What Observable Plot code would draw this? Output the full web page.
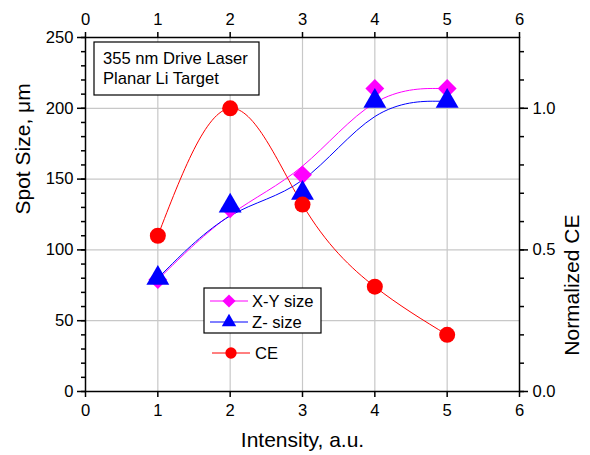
<!DOCTYPE html>
<html>
<head>
<meta charset="utf-8">
<script src="https://cdn.jsdelivr.net/npm/d3@7"></script>
<script src="https://cdn.jsdelivr.net/npm/@observablehq/plot@0.6"></script>
<style>
  body { margin: 0; background: white; }
</style>
</head>
<body>
<div id="chart"></div>
<script>
// ---- data ----
const intensity = [1, 2, 3, 4, 5];
const xySize = [79, 129, 153, 214, 214];   // µm, left axis
const zSize = [80, 131, 140, 205, 205];    // µm, left axis
const ceNorm = [0.55, 1.0, 0.66, 0.37, 0.20]; // normalized CE, right axis

const xTicks = [0, 1, 2, 3, 4, 5, 6];
const yMajor = [0, 50, 100, 150, 200, 250];
const ceMajor = [0.0, 0.5, 1.0];
const annotation = ["355 nm Drive Laser", "Planar Li Target"];

const ceToLeft = 200; // 1.0 normalized CE sits at 200 on the left axis

const rows = intensity.map((x, i) => ({x, xy: xySize[i], z: zSize[i], ce: ceNorm[i] * ceToLeft}));

const font = "'Liberation Sans', Arial, sans-serif";
const axisStyle = {strokeWidth: 1.5, label: null, fontSize: 16.6};

const plot = Plot.plot({
  width: 590,
  height: 455,
  marginLeft: 85,
  marginRight: 71,
  marginTop: 37,
  marginBottom: 64,
  x: {domain: [0, 6]},
  y: {domain: [0, 250]},
  style: {fontFamily: font, fontSize: "16px", color: "black", background: "white"},
  marks: [
    Plot.gridX([1, 2, 3, 4, 5], {stroke: "#c8c8c8", strokeOpacity: 1, strokeWidth: 1.2}),
    Plot.gridY([50, 100, 150, 200], {stroke: "#c8c8c8", strokeOpacity: 1, strokeWidth: 1.2}),
    // left axis
    Plot.axisY(d3.range(0, 251, 10), {...axisStyle, anchor: "left", tickSize: 4, tickFormat: () => ""}),
    Plot.axisY(yMajor, {...axisStyle, anchor: "left", tickSize: 8, tickPadding: 4}),
    // right axis (normalized CE)
    Plot.axisY(d3.range(0, 250, 20), {...axisStyle, anchor: "right", tickSize: 4, tickFormat: () => ""}),
    Plot.axisY(ceMajor.map(v => v * ceToLeft), {...axisStyle, anchor: "right", tickSize: 8, tickPadding: 5, tickFormat: d => (d / ceToLeft).toFixed(1)}),
    // x axes
    Plot.axisX(xTicks, {...axisStyle, anchor: "bottom", tickSize: 6, tickPadding: 7}),
    Plot.axisX(xTicks, {...axisStyle, anchor: "top", tickSize: 6, tickPadding: 7}),
    Plot.frame({stroke: "black", strokeWidth: 1.5}),
    // series
    Plot.line(rows, {x: "x", y: "xy", stroke: "#ff00ff", strokeWidth: 1, curve: "basis"}),
    Plot.line(rows, {x: "x", y: "z", stroke: "#0000ff", strokeWidth: 1, curve: "basis"}),
    Plot.line(rows, {x: "x", y: "ce", stroke: "#ff0000", strokeWidth: 1, curve: "natural"}),
    Plot.dot(rows, {x: "x", y: "xy", symbol: "diamond2", r: 8.5, fill: "#ff00ff", stroke: "none"}),
    Plot.dot(rows, {x: "x", y: "z", symbol: "triangle", r: 8.5, fill: "#0000ff", stroke: "none"}),
    Plot.dot(rows, {x: "x", y: "ce", symbol: "circle", r: 8, fill: "#ff0000", stroke: "none"}),
    // axis titles
    Plot.text(["Intensity, a.u."], {text: d => d, frameAnchor: "bottom", dy: 49, lineAnchor: "middle", fontSize: 21}),
    Plot.text(["Spot Size, \u03bcm"], {text: d => d, frameAnchor: "left", dx: -62, rotate: -90, lineAnchor: "middle", fontSize: 21}),
    Plot.text(["Normalized CE"], {text: d => d, frameAnchor: "right", dx: 53, rotate: -90, lineAnchor: "middle", fontSize: 21})
  ]
});

document.getElementById("chart").appendChild(plot);

// ---- annotation box and legend (chart furniture) ----
const svg = d3.select(plot);
const ann = svg.append("g").attr("font-family", font).attr("font-size", 16.6).attr("fill", "black").attr("text-anchor", "start");
ann.append("rect").attr("x", 94).attr("y", 42).attr("width", 165).attr("height", 53)
  .attr("fill", "white").attr("stroke", "black").attr("stroke-width", 1.2);
annotation.forEach((t, i) => ann.append("text").attr("x", 103).attr("y", 64 + i * 20).text(t));

const leg = svg.append("g").attr("font-family", font).attr("font-size", 16.6).attr("text-anchor", "start");
leg.append("rect").attr("x", 204).attr("y", 288).attr("width", 117).attr("height", 45)
  .attr("fill", "white").attr("stroke", "black").attr("stroke-width", 1.2);
const legendItems = [
  {label: "X-Y size", color: "#ff00ff", symbol: d3.symbolDiamond2, size: 110, y: 301, x0: 210, x1: 248, tx: 252},
  {label: "Z- size", color: "#0000ff", symbol: d3.symbolTriangle, size: 90, y: 322, x0: 210, x1: 248, tx: 252},
  {label: "CE", color: "#ff0000", symbol: d3.symbolCircle, size: 100, y: 353, x0: 212, x1: 250, tx: 255}
];
legendItems.forEach(it => {
  leg.append("line").attr("x1", it.x0).attr("x2", it.x1).attr("y1", it.y).attr("y2", it.y)
    .attr("stroke", it.color).attr("stroke-width", 1);
  leg.append("path").attr("d", d3.symbol(it.symbol, it.size)())
    .attr("transform", `translate(${(it.x0 + it.x1) / 2},${it.y})`).attr("fill", it.color);
  leg.append("text").attr("x", it.tx).attr("y", it.y).attr("dy", "0.35em").attr("fill", "black").text(it.label);
});
</script>
</body>
</html>
